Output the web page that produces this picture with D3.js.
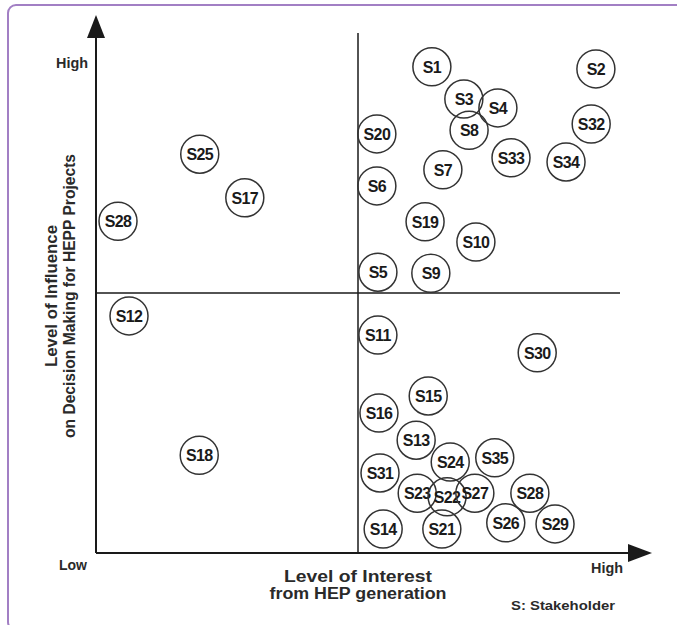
<!DOCTYPE html>
<html><head><meta charset="utf-8">
<script src="https://cdn.jsdelivr.net/npm/d3@7"></script>
<style>body{margin:0;background:#fff}svg{display:block}</style>
</head><body>
<script>
// Stakeholder labels and positions (interest 0-10, influence 0-10)
const labels = ["S1","S2","S3","S4","S8","S32","S20","S7","S33","S34","S25","S17","S28","S6","S19","S10","S5","S9",
  "S12","S11","S30","S15","S16","S13","S18","S24","S35","S31","S23","S22","S27","S28","S14","S21","S26","S29"];
const interest = [6.41,9.54,7.02,7.67,7.12,9.45,5.36,6.62,7.92,8.97,1.98,2.84,0.42,5.36,6.28,7.25,5.38,6.39,
  0.63,5.38,8.42,6.34,5.40,6.11,1.97,6.76,7.61,5.42,6.13,6.70,7.23,8.28,5.48,6.60,7.82,8.76];
const influence = [9.35,9.31,8.73,8.56,8.13,8.25,8.06,7.37,7.60,7.52,7.67,6.83,6.38,7.06,6.37,5.98,5.40,5.38,
  4.56,4.19,3.85,3.02,2.69,2.17,1.88,1.75,1.83,1.54,1.15,1.08,1.15,1.15,0.46,0.46,0.58,0.56];
const axisLow = "Low", axisHigh = "High";
const xTitle = ["Level of Interest","from HEP generation"];
const yTitle = ["Level of Influence","on Decision Making for HEPP Projects"];
const note = "S: Stakeholder";

const W = 677, H = 625;
const svg = d3.select("body").append("svg").attr("width", W).attr("height", H);
const x = d3.scaleLinear().domain([0,10]).range([96,620]);
const y = d3.scaleLinear().domain([0,10]).range([553,33]);

// frame
svg.append("rect").attr("x",8).attr("y",5).attr("width",W).attr("height",H)
  .attr("rx",8).attr("fill","none").attr("stroke","#a27fc4").attr("stroke-width",2);

const ink = "#1a1a1a";
// axes
svg.append("line").attr("x1",x(0)).attr("y1",y(0)).attr("x2",x(0)).attr("y2",30)
  .attr("stroke",ink).attr("stroke-width",2);
svg.append("line").attr("x1",x(0)).attr("y1",y(0)).attr("x2",632).attr("y2",y(0))
  .attr("stroke",ink).attr("stroke-width",2);
svg.append("path").attr("d",`M${x(0)},15 L${x(0)-9},38 L${x(0)+9},38 Z`).attr("fill",ink);
svg.append("path").attr("d",`M652,${y(0)} L628,${y(0)-9} L628,${y(0)+9} Z`).attr("fill",ink);
// quadrant lines
svg.append("line").attr("x1",x(5)).attr("y1",y(0)).attr("x2",x(5)).attr("y2",y(10))
  .attr("stroke",ink).attr("stroke-width",1.5);
svg.append("line").attr("x1",x(0)).attr("y1",y(5)).attr("x2",x(10)).attr("y2",y(5))
  .attr("stroke",ink).attr("stroke-width",1.5);

const font = "'Liberation Sans', Arial, sans-serif";
function txt(t, px, py, size, weight, anchor){
  return svg.append("text").attr("x",px).attr("y",py).text(t)
    .attr("font-family",font).attr("font-size",size).attr("font-weight",weight||"normal")
    .attr("text-anchor",anchor||"middle").attr("fill","#2a2a2a");
}
txt(axisHigh, 72, 68, 14, "bold").attr("textLength",32).attr("lengthAdjust","spacingAndGlyphs");
txt(axisLow, 73, 570, 14, "bold").attr("textLength",28).attr("lengthAdjust","spacingAndGlyphs");
txt(axisHigh, 607, 573, 14, "bold").attr("textLength",32).attr("lengthAdjust","spacingAndGlyphs");
txt(xTitle[0], 358, 582, 16, "bold").attr("textLength",148).attr("lengthAdjust","spacingAndGlyphs");
txt(xTitle[1], 358, 599, 16, "bold").attr("textLength",177).attr("lengthAdjust","spacingAndGlyphs");
txt(note, 563, 610, 13, "bold").attr("textLength",104).attr("lengthAdjust","spacingAndGlyphs");
const yt = svg.append("g").attr("transform","translate(0,296) rotate(-90)");
yt.append("text").attr("x",0).attr("y",57).text(yTitle[0]).attr("font-family",font)
  .attr("font-size",16).attr("font-weight","bold").attr("text-anchor","middle").attr("fill","#2a2a2a")
  .attr("textLength",142).attr("lengthAdjust","spacingAndGlyphs");
yt.append("text").attr("x",0).attr("y",75).text(yTitle[1]).attr("font-family",font)
  .attr("font-size",16).attr("font-weight","bold").attr("text-anchor","middle").attr("fill","#2a2a2a")
  .attr("textLength",284).attr("lengthAdjust","spacingAndGlyphs");

// stakeholders
const data = labels.map((l,i)=>({l, x:interest[i], y:influence[i]}));
const g = svg.append("g").selectAll("g").data(data).join("g")
  .attr("transform", d=>`translate(${x(d.x)},${y(d.y)})`);
g.append("circle").attr("r",19).attr("fill","none").attr("stroke","#333").attr("stroke-width",1.5);
g.append("text").text(d=>d.l).attr("y",6).attr("text-anchor","middle")
  .attr("font-family",font).attr("font-size",16).attr("font-weight","bold").attr("fill","#1a1a1a")
  .attr("letter-spacing",-0.6);
</script>
</body></html>
